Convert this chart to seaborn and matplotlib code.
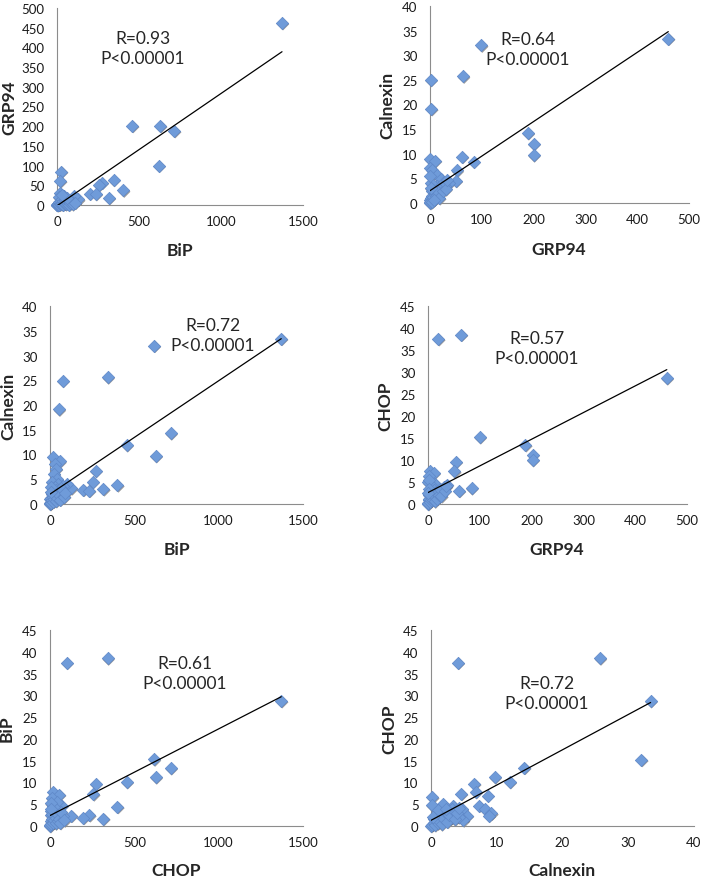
import numpy as np
import seaborn as sns
import matplotlib
matplotlib.use("Agg")
import matplotlib.pyplot as plt
import matplotlib.transforms as mtransforms

sns.set_style("white")
plt.rcParams['font.family'] = ['Lato', 'DejaVu Sans']

# ---- data ----
# panel 1: BiP vs GRP94
p1_x = [1372, 459, 630, 715, 620, 345, 274, 256, 404, 317, 200, 237, 130, 101, 40, 26, 20, 16, 10,
        0, 1, 2, 3, 4, 5, 6, 8, 9, 12, 14, 15, 18, 22, 25, 28, 32, 35, 38, 45, 48, 52, 58, 65, 72, 80, 88, 95, 110, 60, 30]
p1_y = [462, 201, 201, 188, 100, 64, 57, 51, 37, 18, 29, 28, 14, 23, 23, 85, 61, 31, 20,
        0, 0.5, 1, 0.3, 2, 1, 3, 0.5, 2, 4, 1, 7, 3, 9, 2, 14, 5, 1, 10, 4, 13, 2, 8, 3, 1, 5, 10, 2, 6, 17, 25]

# panel 2: GRP94 vs Calnexin
p2_x = [460, 99, 64, 1.3, 2.6, 189, 200, 200, 62, 84, 0, 10, 0.6, 4, 52, 50, 13, 22, 36, 29, 20, 7, 0.6,
        0, 0.5, 1, 2, 3, 4, 5, 6, 8, 10, 12, 14, 16, 18, 25, 27, 30, 33, 2, 1, 0.5, 3, 7]
p2_y = [33.4, 32, 25.7, 25, 19.1, 14.2, 12.0, 9.7, 9.4, 8.4, 8.9, 8.6, 7.2, 6.6, 6.6, 4.5, 5.7, 4.9, 4.0, 3.5, 2.8, 2.2, 0.6,
        0, 0.3, 1, 0.5, 1.5, 2.5, 0.8, 1.2, 3, 2, 1.5, 3.5, 2.2, 1, 2.5, 4.3, 2.8, 4.6, 4, 3, 5.5, 0.2, 0.6]

# panel 3: BiP vs Calnexin
p3_x = [1371, 617, 342, 75, 53, 716, 455, 627, 18, 57, 30, 36, 24, 40, 10, 49, 270, 253, 400, 317, 198, 233, 127, 99, 79, 69, 49, 0,
        0, 2, 4, 6, 8, 10, 12, 15, 18, 20, 22, 26, 28, 32, 35, 38, 42, 45, 55, 60, 65, 85, 90, 5, 3]
p3_y = [33.4, 32, 25.6, 24.9, 19.1, 14.3, 11.9, 9.7, 9.5, 8.6, 8.1, 7.1, 6.1, 5.1, 4.4, 4.0, 6.7, 4.5, 3.8, 3.0, 2.9, 2.7, 3.2, 4.1, 3.7, 2.4, 1.4, 1.0,
        0, 0.2, 0.5, 1.2, 0.3, 2, 0.8, 1.5, 3, 0.5, 2.2, 1, 3.5, 1.8, 0.6, 2.8, 1.2, 2.5, 1.8, 0.9, 3.2, 1.5, 2.2, 3.5, 2.5]

# panel 4: GRP94 vs CHOP
p4_x = [461, 20, 64, 100, 188, 202, 202, 54, 51, 3, 11, 1, 0, 14, 37, 30, 60, 84, 27, 19, 2.6,
        0, 0.5, 1, 2, 3, 4, 5, 6, 7, 8, 9, 10, 12, 13, 15, 17, 22, 24, 26, 32, 35, 1, 2, 0]
p4_y = [28.6, 37.5, 38.5, 15.2, 13.4, 11.2, 10.0, 9.6, 7.4, 7.6, 7.0, 6.4, 4.9, 4.6, 4.4, 3.8, 3.0, 3.6, 2.5, 1.5, 0.8,
        0, 0.3, 1.2, 2, 0.5, 3, 1.5, 0.8, 2.5, 4, 1, 2, 3.2, 0.6, 2.8, 1.2, 2, 3.5, 1.8, 3, 4, 5.5, 3.5, 2.5]

# panel 5: CHOP axis vs BiP axis
p5_x = [1371, 99, 342, 617, 716, 627, 455, 270, 257, 400, 317, 234, 198, 127, 20, 55, 10, 16, 69, 40, 43, 79, 20, 10,
        0, 2, 4, 5, 7, 8, 12, 14, 18, 22, 25, 28, 30, 33, 36, 45, 50, 55, 60, 65, 3, 6, 85]
p5_y = [28.7, 37.5, 38.5, 15.3, 13.3, 11.2, 10.1, 9.7, 7.3, 4.4, 1.7, 2.5, 1.9, 2.4, 7.8, 7.2, 6.4, 4.7, 4.7, 5.5, 3.2, 2.4, 2.1, 0.9,
        0, 0.3, 1.2, 2.5, 0.5, 3.5, 1.5, 2.8, 0.8, 3.6, 1.3, 2.2, 4.2, 0.6, 1.8, 1.2, 2.6, 1.5, 0.7, 3.3, 5.2, 4, 1.3]

# panel 6: Calnexin vs CHOP
p6_x = [33.4, 4.1, 25.7, 32, 14.2, 12.0, 9.7, 6.6, 6.8, 4.6, 8.6, 0.2, 0.1, 7.3, 8.2, 9.2, 8.8, 5.5, 4.9, 3.0, 3.4, 2.0,
        1.9, 4.7, 3.1, 2.6, 1.6, 4.2, 0.9,
        0, 0.2, 0.4, 0.5, 0.6, 0.8, 1.0, 1.2, 1.4, 1.6, 1.8, 2.2, 2.5, 2.8, 3.2, 3.6, 4.0, 4.3, 1.1, 0.3, 2.3]
p6_y = [28.7, 37.5, 38.5, 15.2, 13.4, 10.1, 11.2, 9.7, 7.8, 7.4, 7.0, 6.6, 4.8, 4.7, 3.9, 2.9, 2.4, 2.4, 1.3, 1.8, 4.7, 4.7,
        5.0, 3.9, 3.5, 2.8, 2.0, 2.0, 1.2,
        0, 0.3, 0.8, 1.5, 0.2, 2.2, 0.6, 1.2, 2.8, 0.4, 1.9, 3.2, 1.0, 2.5, 3.8, 1.5, 3.0, 4.2, 3.6, 2.0, 4.0]

# trendlines (slope, intercept) as drawn
fits = [(0.285, -2.0), (0.0702, 2.5), (0.0229, 2.0), (0.0606, 2.6), (0.0199, 2.4), (0.81, 1.3)]
stats = [("0.93", "0.00001"), ("0.64", "0.00001"), ("0.72", "0.00001"),
         ("0.57", "0.00001"), ("0.61", "0.00001"), ("0.72", "0.00001")]
xlabels = ["BiP", "GRP94", "BiP", "GRP94", "CHOP", "Calnexin"]
ylabels = ["GRP94", "Calnexin", "Calnexin", "CHOP", "BiP", "CHOP"]
xmax = [1500, 500, 1500, 500, 1500, 40]
xstep = [500, 100, 500, 100, 500, 10]
ymax = [500, 40, 40, 45, 45, 45]
ystep = [50, 5, 5, 5, 5, 5]

xs = [p1_x, p2_x, p3_x, p4_x, p5_x, p6_x]
ys = [p1_y, p2_y, p3_y, p4_y, p5_y, p6_y]

# layout in pixels (left, right, top, bottom)
W, H = 703, 878
boxes = [(57, 303, 9, 206), (430, 689, 7, 204), (50, 303, 307, 505),
         (428, 687, 307, 505), (50, 303, 631, 827), (431, 694, 631, 827)]
xlab_pos = [(0.5, -0.188), (0.498, -0.193), (0.5, -0.187), (0.498, -0.187), (0.5, -0.184), (0.498, -0.184)]
ylab_pos = [-0.163, -0.135, -0.134, -0.135, -0.138, -0.129]
txt_pos = [(0.35, 0.797), (0.378, 0.782), (0.644, 0.854), (0.421, 0.788), (0.534, 0.78), (0.441, 0.679)]

fig = plt.figure(figsize=(W / 100, H / 100), dpi=100)

for i in range(6):
    l, r, t, b = boxes[i]
    ax = fig.add_axes([l / W, 1 - b / H, (r - l) / W, (b - t) / H])
    x = np.array(xs[i])
    y = np.array(ys[i])

    # shadow layer under the markers
    sns.scatterplot(x=x, y=y, marker='D', s=40, color='#222222', edgecolor='none',
                    alpha=0.45, ax=ax, clip_on=False, zorder=2)
    shadow = ax.collections[-1]
    shadow.set_offset_transform(ax.transData + mtransforms.ScaledTranslation(1.0 / 100, -1.3 / 100, fig.dpi_scale_trans))

    sns.scatterplot(x=x, y=y, marker='D', s=40, color='#6F9BD9', edgecolor='#5F88C8',
                    linewidth=0.5, ax=ax, clip_on=False, zorder=3)

    m, c = fits[i]
    xl = np.array([x.min(), x.max()])
    ax.plot(xl, m * xl + c, color='black', lw=0.9, zorder=4)

    ax.set_xlim(0, xmax[i])
    ax.set_ylim(0, ymax[i])
    ax.set_xticks(np.arange(0, xmax[i] + 1, xstep[i]))
    ax.set_yticks(np.arange(0, ymax[i] + 1, ystep[i]))
    ax.tick_params(axis='both', labelsize=9.5, colors='#8C8C8C', length=3.5, width=0.8,
                   direction='out', labelcolor='#1a1a1a')
    ax.tick_params(axis='x', pad=3.8)
    ax.tick_params(axis='y', pad=5.5)
    for side in ['top', 'right']:
        ax.spines[side].set_visible(False)
    for side in ['left', 'bottom']:
        ax.spines[side].set_color('#8C8C8C')
        ax.spines[side].set_linewidth(0.8)

    ax.set_xlabel(xlabels[i], fontsize=12.5, fontweight='bold')
    ax.set_ylabel(ylabels[i], fontsize=12.5, fontweight='bold')
    ax.xaxis.set_label_coords(*xlab_pos[i])
    ax.yaxis.set_label_coords(ylab_pos[i], 0.5)

    rv, pv = stats[i]
    ax.text(txt_pos[i][0], txt_pos[i][1], "R=" + rv + "\nP<" + pv, transform=ax.transAxes,
            ha='center', va='center', fontsize=12.5, linespacing=1.3)

fig.savefig("out.png", dpi=100)
